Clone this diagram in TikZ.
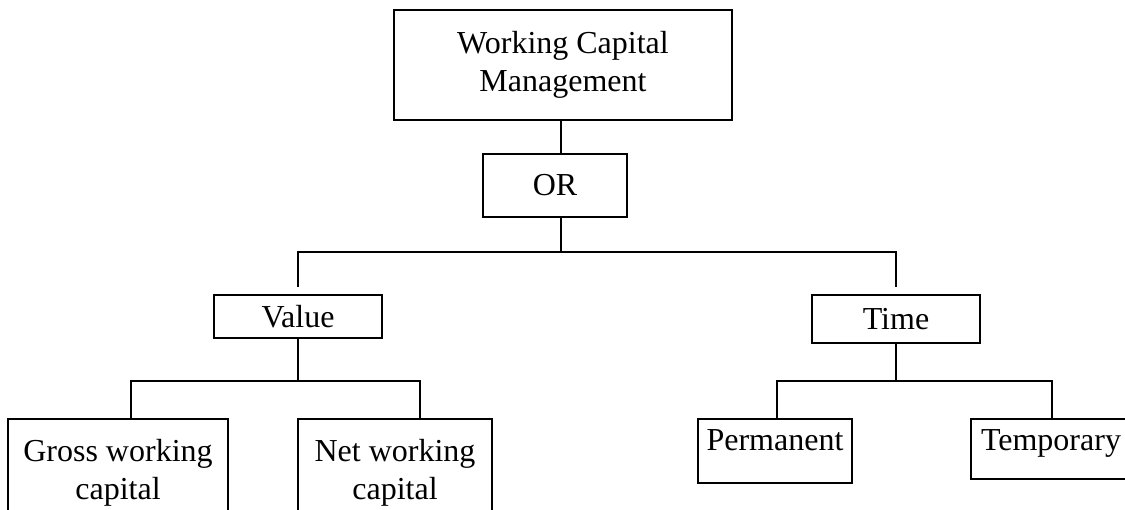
\documentclass[tikz,border=0pt]{standalone}
\usepackage{fontspec}
\setmainfont{Liberation Serif}

\begin{document}
\begin{tikzpicture}[x=0.5pt,y=-0.5pt,font=\fontsize{16}{19}\selectfont,
    line width=0.8pt,
    box/.style={draw,inner sep=0pt,align=center},
    leaf/.style={box,anchor=north},
    flatleaf/.style={leaf,inner ysep=4pt,text height=12pt,text depth=12pt}]
  \clip (0,0) rectangle (1125,509);

  \node[box,minimum width=169pt,minimum height=55pt] (wcm) at (563,65)
    {Working Capital\\Management};
  \node[box,minimum width=72pt,minimum height=31.5pt] (orbox) at (555,185.5) {OR};
  \coordinate (trunk) at (561,252);

  \node[box,minimum width=84pt,minimum height=21.5pt] (value) at (298,316.5) {Value};
  \node[box,minimum width=84pt,minimum height=24pt] (time) at (896,319) {Time};

  \coordinate (gd) at (131,381);
  \coordinate (nd) at (420,381);
  \coordinate (pd) at (777,381);
  \coordinate (td) at (1052,381);

  \node[leaf,minimum width=110pt,minimum height=53.5pt] (gross) at (118,418)
    {Gross working\\capital};
  \node[leaf,minimum width=97pt,minimum height=53.5pt] (net) at (395,418)
    {Net working\\capital};
  \node[flatleaf,minimum width=77pt] (perm) at (775,418) {Permanent};
  \node[flatleaf,minimum width=80pt,text depth=10pt] (temp) at (1051,418) {Temporary};

  \draw (wcm.south -| trunk) -- (orbox.north -| trunk);
  \draw (orbox.south -| trunk) -- (trunk);
  \draw[shorten <=3.5pt,shorten >=3.5pt] (value.north) |- (trunk) -| (time.north);

  \draw (value) -- (value.south |- gd);
  \draw (gross.north -| gd) |- (nd) -- (nd |- net.north);
  \draw (time) -- (time.south |- td);
  \draw (perm.north -| pd) |- (td) -- (td |- temp.north);
\end{tikzpicture}
\end{document}
